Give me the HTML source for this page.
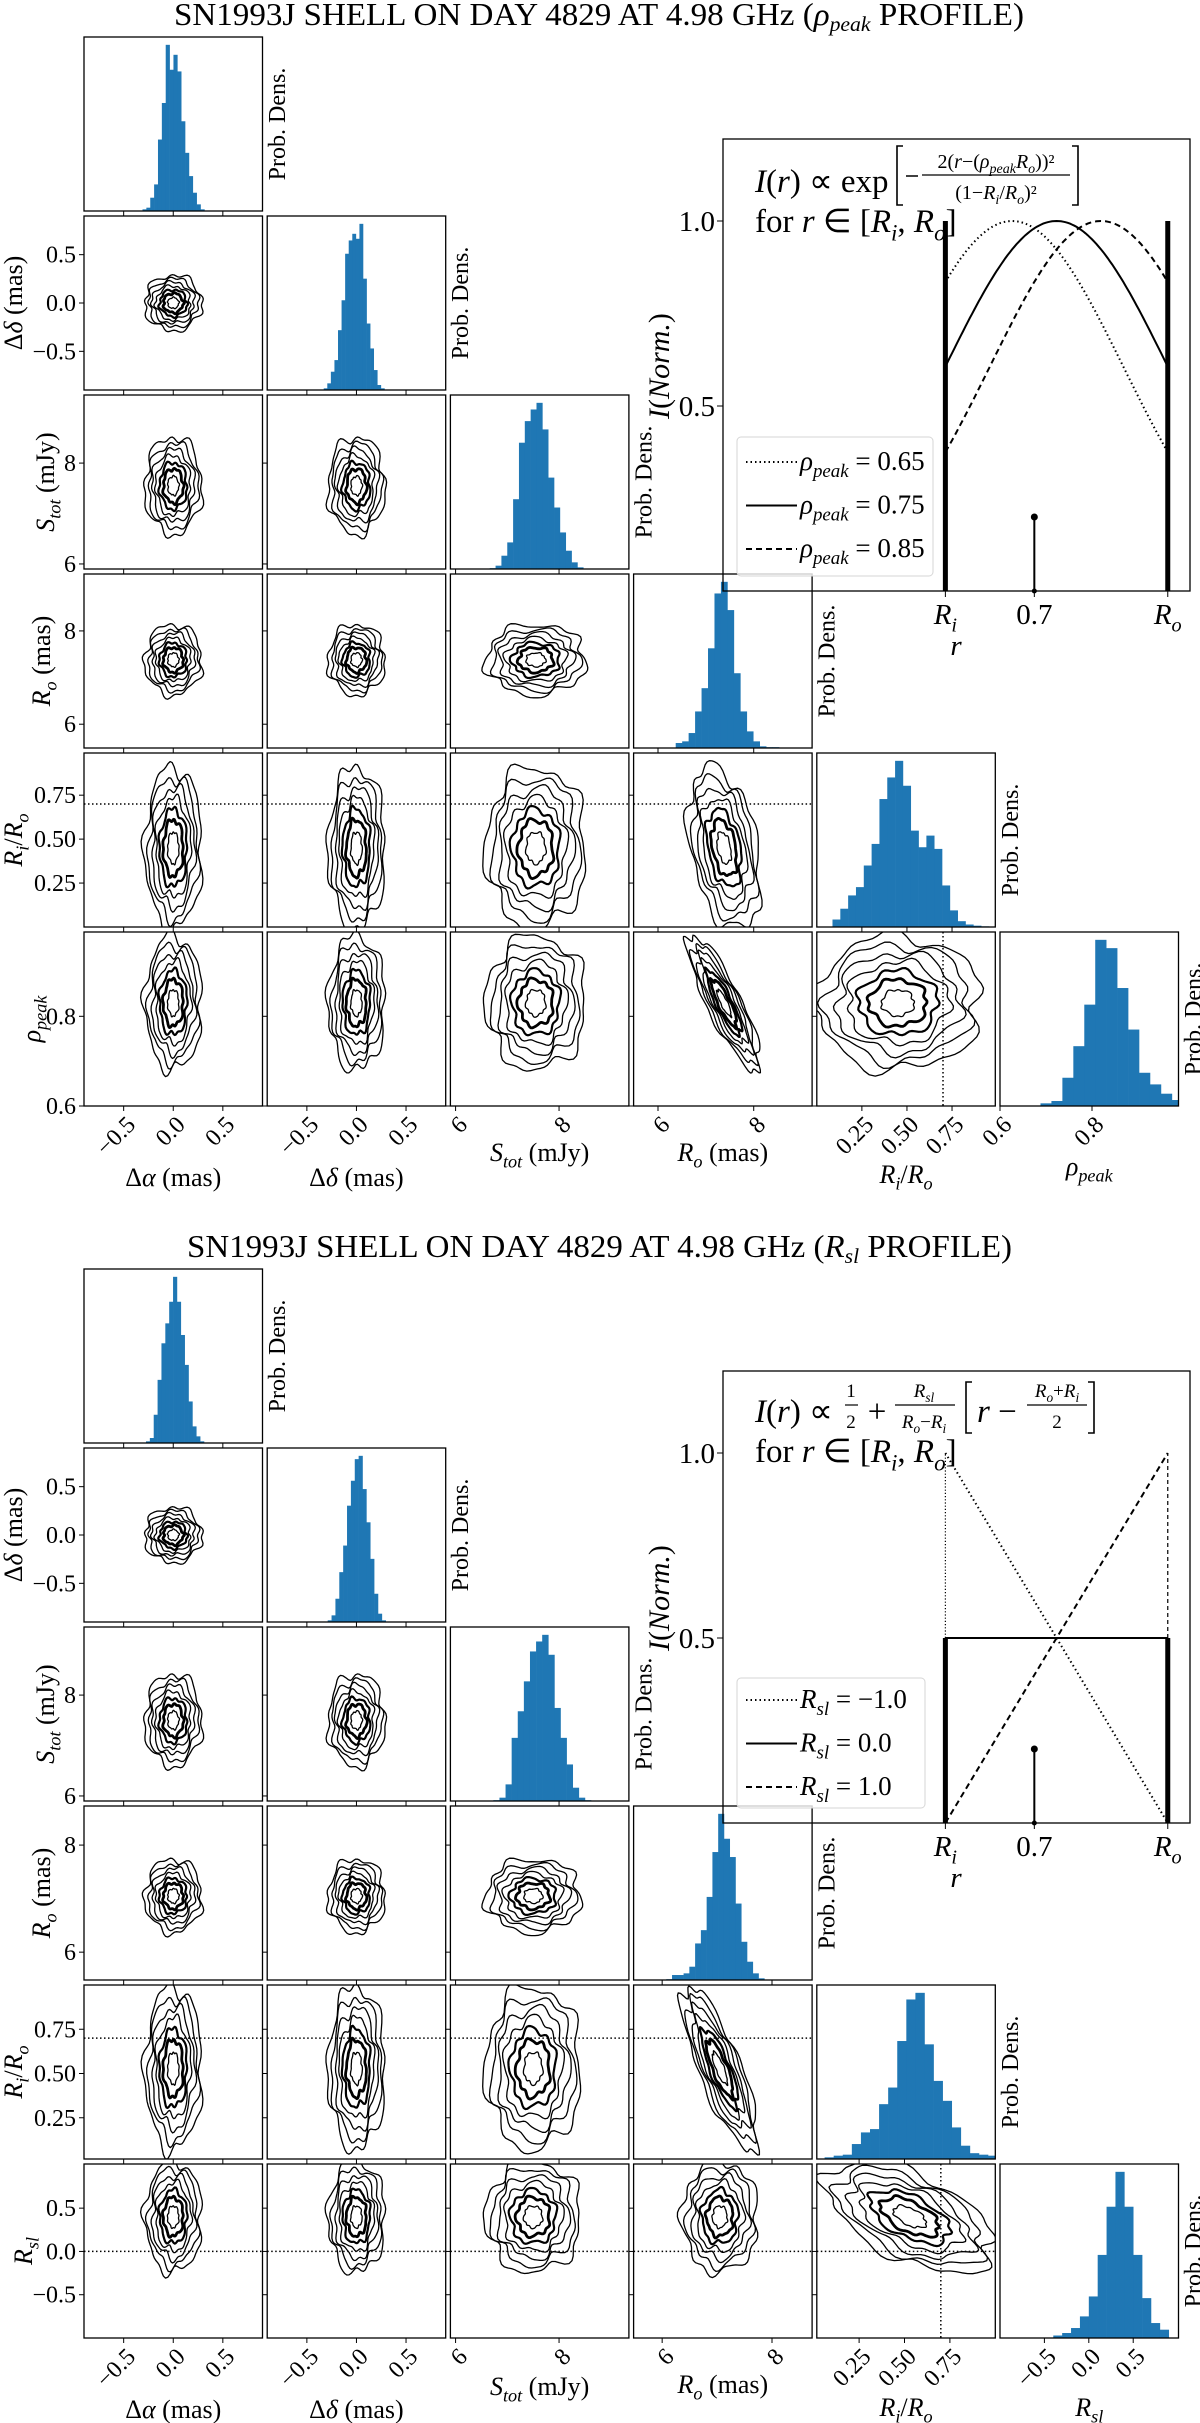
<!DOCTYPE html>
<html>
<head>
<meta charset="utf-8">
<style>
html,body{margin:0;padding:0;background:#fff;}
svg{display:block;font-family:"Liberation Serif",serif;}
</style>
</head>
<body>
<svg id="fig" width="1200" height="2423" viewBox="0 0 1200 2423" xmlns="http://www.w3.org/2000/svg">
<rect width="1200" height="2423" fill="#fff"/>
<defs id="defs"></defs>
<g id="topfig">
  <text x="174" y="25" font-size="32" textLength="850" lengthAdjust="spacingAndGlyphs">SN1993J SHELL ON DAY 4829 AT 4.98 GHz (<tspan font-style="italic">ρ</tspan><tspan dy="6" font-size="21" font-style="italic">peak</tspan><tspan dy="-6"> PROFILE)</tspan></text>
</g>
<g id="botfig" transform="translate(0,1232)">
  <text x="187" y="25" font-size="32" textLength="825" lengthAdjust="spacingAndGlyphs">SN1993J SHELL ON DAY 4829 AT 4.98 GHz (<tspan font-style="italic">R</tspan><tspan dy="6" font-size="21" font-style="italic">sl</tspan><tspan dy="-6"> PROFILE)</tspan></text>
</g>
</svg>
<script>
const NS='http://www.w3.org/2000/svg';
const PX0=84, PSX=183.2, PW=178.5, PY0=37, PSY=179, PH=174;

// ---------- TOP FIGURE DATA ----------
const topMin=[-0.9,-0.9,5.9,5.49,0.0,0.6];
const topMax=[0.9,0.9,9.35,9.22,0.99,0.988];
const topTicks=[[-0.5,0,0.5],[-0.5,0,0.5],[6,8],[6,8],[0.25,0.5,0.75],[0.6,0.8]];
const topTickLabels=[['−0.5','0.0','0.5'],['−0.5','0.0','0.5'],['6','8'],['6','8'],['0.25','0.50','0.75'],['0.6','0.8']];
const topHistStart=[-0.31,-0.33,6.66,6.37,0.087,0.688];
const topHistWidth=[0.039,0.036,0.113,0.135,0.0434,0.0238];
const topHistDalpha=[0.01,0.02,0.08,0.16,0.43,0.65,1.0,0.85,0.94,0.84,0.54,0.35,0.21,0.11,0.04,0.01];
const topHistDdelta=[0.01,0.04,0.11,0.18,0.36,0.54,0.82,0.9,0.94,0.91,1.0,0.67,0.4,0.25,0.12,0.03,0.01];
const topHistStot=[0.005,0.02,0.08,0.16,0.42,0.76,0.89,0.96,1.0,0.84,0.55,0.37,0.22,0.11,0.04,0.01];
const topHistRo=[0.03,0.04,0.09,0.22,0.36,0.6,0.93,1.0,0.83,0.45,0.22,0.1,0.04,0.01,0.005,0.005];
const topHistRiro=[0.045,0.11,0.19,0.24,0.37,0.5,0.77,0.9,1.0,0.85,0.58,0.48,0.55,0.47,0.25,0.1,0.035,0.015,0.008,0.004];
const topHistRho=[0.016,0.03,0.17,0.36,0.61,1.0,0.95,0.71,0.46,0.2,0.13,0.074,0.036];
const topMeans=[0.0,0.0,7.55,7.38,0.45,0.83];
const topSds=[0.125,0.125,0.42,0.33,0.2,0.065];
const topCorrRow=[5,4,5];
const topCorrCol=[3,3,4];
const topCorrVal=[-0.85,-0.35,0.0];
const topRefValue=0.7;

// ---------- BOTTOM FIGURE DATA ----------
const botMin=[-0.9,-0.9,5.9,5.48,0.017,-1.0];
const botMax=[0.9,0.9,9.35,8.73,1.0,1.01];
const botTicks=[[-0.5,0,0.5],[-0.5,0,0.5],[6,8],[6,8],[0.25,0.5,0.75],[-0.5,0,0.5]];
const botTickLabels=[['−0.5','0.0','0.5'],['−0.5','0.0','0.5'],['6','8'],['6','8'],['0.25','0.50','0.75'],['−0.5','0.0','0.5']];
const botHistStart=[-0.275,-0.29,6.73,5.97,0.06,-0.4];
const botHistWidth=[0.039,0.039,0.118,0.105,0.05,0.1];
const botHistDalpha=[0.01,0.03,0.17,0.38,0.6,0.72,0.85,1.0,0.85,0.65,0.47,0.25,0.1,0.04,0.01];
const botHistDdelta=[0.01,0.04,0.14,0.3,0.46,0.7,0.85,0.98,1.0,0.8,0.6,0.38,0.17,0.05,0.01];
const botHistStot=[0.005,0.02,0.1,0.38,0.54,0.72,0.9,0.96,1.0,0.88,0.56,0.38,0.22,0.08,0.02,0.005];
const botHistRo=[0.003,0.005,0.03,0.03,0.04,0.08,0.22,0.3,0.5,0.77,1.0,0.85,0.74,0.46,0.23,0.11,0.04,0.01];
const botHistRiro=[0.01,0.02,0.026,0.09,0.16,0.18,0.33,0.43,0.71,0.96,1.0,0.69,0.47,0.35,0.19,0.08,0.035,0.026,0.02];
const botHistRsl=[0.015,0.03,0.06,0.13,0.25,0.5,0.79,1.0,0.79,0.5,0.24,0.09,0.05];
const botMeans=[0.0,0.0,7.5,7.05,0.53,0.4];
const botSds=[0.125,0.125,0.4,0.3,0.2,0.28];
const botCorrRow=[4,5,5];
const botCorrCol=[3,4,3];
const botCorrVal=[-0.8,-0.55,0.0];
const botRefRi=0.7;
const botRefRsl=0.0;

// ---------- INSET DATA ----------
const insetRhoPeak=[0.65,0.75,0.85];
const insetRsl=[-1.0,0.0,1.0];
const insetRi=0.5, insetRo=1.0, insetStemR=0.7, insetStemH=0.2;

const defs=document.getElementById('defs');
function mk(tag,attrs,parent){const e=document.createElementNS(NS,tag);for(const k in attrs)e.setAttribute(k,attrs[k]);if(parent)parent.appendChild(e);return e;}
function fmt(s,fs){
  return s.replace(/<i>(.*?)<\/i>/g,'<tspan font-style="italic">$1</tspan>')
   .replace(/<sub>(.*?)<\/sub>/g,(m,a)=>'<tspan dy="'+(fs*0.25)+'" font-size="'+(fs*0.7)+'" font-style="italic">'+a+'</tspan><tspan dy="'+(-fs*0.25)+'">\u200B</tspan>');
}
function txt(parent,x,y,fs,html,anchor,transform){
  const t=mk('text',{x:x,y:y,'font-size':fs,'text-anchor':anchor||'start'},parent);
  if(transform)t.setAttribute('transform',transform);
  t.innerHTML=fmt(html,fs);
  return t;
}

function drawCorner(root,id,mins,maxs,ticks,tickLabels,hists,hStart,hWidth,means,sds,corrRow,corrCol,corrVal,axisLabels,yLabelX,xLabelY,refH,refV){
  const corr=(i,j)=>{for(let k=0;k<corrRow.length;k++){if(corrRow[k]===i&&corrCol[k]===j)return corrVal[k];}return 0;};
  for(let i=0;i<6;i++){
    for(let j=0;j<=i;j++){
      const x0=PX0+j*PSX, y0=PY0+i*PSY;
      const sx=v=>x0+(v-mins[j])/(maxs[j]-mins[j])*PW;
      const sy=v=>y0+PH-(v-mins[i])/(maxs[i]-mins[i])*PH;
      const g=mk('g',{},root);
      
      
      const cp=mk('clipPath',{id:id+'c'+i+'_'+j},defs);
      mk('rect',{x:x0,y:y0,width:PW,height:PH},cp);
      const inner=mk('g',{'clip-path':'url(#'+id+'c'+i+'_'+j+')'},g);
      if(i===j){
        const h=hists[i];const mx=Math.max(...h);
        for(let k=0;k<h.length;k++){
          const a=sx(hStart[i]+k*hWidth[i]), b=sx(hStart[i]+(k+1)*hWidth[i]);
          const hh=h[k]/mx*0.955*PH;
          const r=mk('rect',{x:a,y:y0+PH-hh,width:b-a+0.3,height:hh,fill:'#1f77b4'},inner);
          
          
        }
      } else {
        const rho=corr(i,j);
        const levels=[0.45,0.8,1.1,1.4,1.7,2.0,2.3];
        const widths=[1.3,2.8,2.2,1.3,1.3,1.3,1.3];
        for(let k=0;k<levels.length;k++){
          let d='';
          for(let n=0;n<=90;n++){
            const t=n/90*Math.PI*2;
            const w=1+0.07*Math.sin(5*t+k*1.3+i*0.7)+0.05*Math.sin(9*t+k*0.9+j*1.7)+0.03*Math.sin(13*t+k);
            const u=levels[k]*w*Math.cos(t), v=levels[k]*w*Math.sin(t);
            const dx=u*sds[j], dy=(rho*u+Math.sqrt(1-rho*rho)*v)*sds[i];
            d+=(n?'L':'M')+sx(means[j]+dx).toFixed(1)+','+sy(means[i]+dy).toFixed(1);
          }
          const p=mk('path',{d:d+'Z',fill:'none',stroke:'#000','stroke-width':widths[k],'stroke-linejoin':'round'},inner);
          
          
        }
      }
      for(const r of refH){ if(r.row===i && j<i && j<=r.maxCol){
        const l=mk('line',{x1:x0,x2:x0+PW,y1:sy(r.v),y2:sy(r.v),stroke:'#000','stroke-width':1.5,'stroke-dasharray':'1.5,2.5'},inner);
        
        
      }}
      for(const r of refV){ if(r.col===j && r.row===i){
        const l=mk('line',{x1:sx(r.v),x2:sx(r.v),y1:y0,y2:y0+PH,stroke:'#000','stroke-width':1.5,'stroke-dasharray':'1.5,2.5'},inner);
        
        
      }}
      const box=mk('rect',{x:x0,y:y0,width:PW,height:PH,fill:'none',stroke:'#000','stroke-width':1.3},g);
      
      
      ticks[j].forEach((tv,ti)=>{
        mk('line',{x1:sx(tv),x2:sx(tv),y1:y0+PH,y2:y0+PH+5,stroke:'#000','stroke-width':1},g);
        if(i===5){
          const rg=mk('g',{transform:'translate('+(sx(tv)+13).toFixed(1)+','+(y0+PH+20)+') rotate(-45)'},g);
          
          
          const t=txt(rg,0,0,24,tickLabels[j][ti],'end');
          
          
        }
      });
      if(j<i){
        ticks[i].forEach((tv,ti)=>{
          mk('line',{x1:x0-5,x2:x0,y1:sy(tv),y2:sy(tv),stroke:'#000','stroke-width':1},g);
          if(j===0){
            const t=txt(g,76,sy(tv)+8,24,tickLabels[i][ti],'end');
            
            
          }
        });
      }
      if(i===j){
        const cy=y0+PH/2, cx=x0+PW+22.5;
        const t=txt(g,cx,cy,24,'Prob.  Dens.','middle','rotate(-90 '+cx+' '+cy+')');
        
        
      }
    }
    if(i>0){
      const cy=PY0+i*PSY+PH/2;
      const t=txt(root,yLabelX[i],cy,26,axisLabels[i],'middle','rotate(-90 '+yLabelX[i]+' '+cy+')');
      
      
    }
    const t2=txt(root,PX0+i*PSX+PW/2,xLabelY[i],26,axisLabels[i],'middle');
    
    
  }
}

const labTop=['Δ<i>α</i> (mas)','Δ<i>δ</i> (mas)','<i>S</i><sub>tot</sub> (mJy)','<i>R</i><sub>o</sub> (mas)','<i>R</i><sub>i</sub>/<i>R</i><sub>o</sub>','<i>ρ</i><sub>peak</sub>'];
const labBot=['Δ<i>α</i> (mas)','Δ<i>δ</i> (mas)','<i>S</i><sub>tot</sub> (mJy)','<i>R</i><sub>o</sub> (mas)','<i>R</i><sub>i</sub>/<i>R</i><sub>o</sub>','<i>R</i><sub>sl</sub>'];

const topG=document.getElementById('topfig');
const botG=document.getElementById('botfig');
drawCorner(topG,'t',topMin,topMax,topTicks,topTickLabels,
  [topHistDalpha,topHistDdelta,topHistStot,topHistRo,topHistRiro,topHistRho],
  topHistStart,topHistWidth,topMeans,topSds,topCorrRow,topCorrCol,topCorrVal,
  labTop,[0,22,54,50,22,40],[1186,1186,1161,1161,1183,1175],
  [{row:4,v:topRefValue,maxCol:3}],[{row:5,col:4,v:topRefValue}]);
drawCorner(botG,'b',botMin,botMax,botTicks,botTickLabels,
  [botHistDalpha,botHistDdelta,botHistStot,botHistRo,botHistRiro,botHistRsl],
  botHistStart,botHistWidth,botMeans,botSds,botCorrRow,botCorrCol,botCorrVal,
  labBot,[0,22,54,50,22,32],[1186,1186,1163,1161,1184,1184],
  [{row:4,v:botRefRi,maxCol:3},{row:5,v:botRefRsl,maxCol:4}],[{row:5,col:4,v:botRefRi}]);

// ---------- INSETS ----------
const IX0=723, IX1=1190, IY0=139, IY1=591;
const ix=v=>IX0+v/1.05*(IX1-IX0);
const iy=v=>IY1-v/1.2216*(IY1-IY0);
const dashes=['1.5,3','','6,4'];
function drawInsetFrame(g,legendLabels,legendBox){
  const fr=mk('rect',{x:IX0,y:IY0,width:IX1-IX0,height:IY1-IY0,fill:'none',stroke:'#000','stroke-width':1.3},g);
  
  
  [[1.0,'1.0'],[0.5,'0.5']].forEach(([v,l])=>{
    mk('line',{x1:IX0-6,x2:IX0,y1:iy(v),y2:iy(v),stroke:'#000','stroke-width':1},g);
    const t=txt(g,715,iy(v)+10,29,l,'end');
    
    
  });
  [[insetRi,'<i>R</i><sub>i</sub>'],[insetStemR,'0.7'],[insetRo,'<i>R</i><sub>o</sub>']].forEach(([v,l])=>{
    mk('line',{x1:ix(v),x2:ix(v),y1:IY1,y2:IY1+6,stroke:'#000','stroke-width':1},g);
    const t=txt(g,ix(v),624,29,l,'middle');
    
    
  });
  const xl=txt(g,956,655,29,'<i>r</i>','middle');
  
  
  const yl=txt(g,669,366,30,'<i>I</i>(<i>Norm.</i>)','middle','rotate(-90 669 366)');
  
  
  const st=mk('line',{x1:ix(insetStemR),x2:ix(insetStemR),y1:iy(0),y2:iy(insetStemH),stroke:'#000','stroke-width':2},g);
  
  
  mk('circle',{cx:ix(insetStemR),cy:iy(insetStemH),r:3.5,fill:'#000'},g);
  mk('circle',{cx:ix(insetStemR),cy:iy(0),r:2.5,fill:'#000'},g);
  const lg=mk('g',{},g);
  
  
  mk('rect',{x:legendBox[0],y:legendBox[1],width:legendBox[2],height:legendBox[3],rx:4,fill:'#fff','fill-opacity':0.8,stroke:'#d6d6d6','stroke-width':1},lg);
  legendLabels.forEach((l,k)=>{
    const cy=legendBox[4]+k*43.5;
    const ll=mk('line',{x1:746,x2:797,y1:cy,y2:cy,stroke:'#000','stroke-width':2},lg);
    if(dashes[k])ll.setAttribute('stroke-dasharray',dashes[k]);
    
    
    const t=txt(lg,800,cy+8,27,l,'start');
    
    
  });
}

const ti=mk('g',{},topG);


insetRhoPeak.forEach((rp,k)=>{
  let d='';
  for(let n=0;n<=100;n++){const r=insetRi+(insetRo-insetRi)*n/100;const I=Math.exp(-2*Math.pow(r-rp*insetRo,2)/Math.pow(1-insetRi/insetRo,2));d+=(n?'L':'M')+ix(r).toFixed(1)+','+iy(I).toFixed(1);}
  const p=mk('path',{d:d,fill:'none',stroke:'#000','stroke-width':2},ti);
  if(dashes[k])p.setAttribute('stroke-dasharray',dashes[k]);
  
  
});
[insetRi,insetRo].forEach(v=>{
  const l=mk('line',{x1:ix(v),x2:ix(v),y1:iy(0),y2:iy(1.0),stroke:'#000','stroke-width':5},ti);
  
  
});
drawInsetFrame(ti,['<i>ρ</i><sub>peak</sub> = 0.65','<i>ρ</i><sub>peak</sub> = 0.75','<i>ρ</i><sub>peak</sub> = 0.85'],[737,437,196,139,462]);
(function(){
  const f=mk('g',{},ti);
  
  
  txt(f,755,192,33,'<i>I</i>(<i>r</i>) ∝ exp','start');
  mk('path',{d:'M903,146H897V205H903M1072,146H1078V205H1072',fill:'none',stroke:'#000','stroke-width':1.6},f);
  mk('line',{x1:906,x2:918,y1:176,y2:176,stroke:'#000','stroke-width':1.5},f);
  mk('line',{x1:922,x2:1070,y1:175,y2:175,stroke:'#000','stroke-width':1.2},f);
  txt(f,996,168,20,'2(<i>r</i>−(<i>ρ</i><sub>peak</sub><i>R</i><sub>o</sub>))²','middle');
  txt(f,996,199,20,'(1−<i>R</i><sub>i</sub>/<i>R</i><sub>o</sub>)²','middle');
  txt(f,755,232,33,'for <i>r</i> ∈ [<i>R</i><sub>i</sub>, <i>R</i><sub>o</sub>]','start');
})();

const bi=mk('g',{},botG);


insetRsl.forEach((rs,k)=>{
  const I0=0.5+rs/(insetRo-insetRi)*(insetRi-(insetRo+insetRi)/2);
  const I1=0.5+rs/(insetRo-insetRi)*(insetRo-(insetRo+insetRi)/2);
  const p=mk('line',{x1:ix(insetRi),y1:iy(I0),x2:ix(insetRo),y2:iy(I1),stroke:'#000','stroke-width':2},bi);
  if(dashes[k])p.setAttribute('stroke-dasharray',dashes[k]);
  
  
});
[insetRi,insetRo].forEach((v,k)=>{
  const l=mk('line',{x1:ix(v),x2:ix(v),y1:iy(0),y2:iy(0.5),stroke:'#000','stroke-width':5},bi);
  
  
  const l2=mk('line',{x1:ix(v),x2:ix(v),y1:iy(0.5),y2:iy(1.0),stroke:'#000','stroke-width':1.2,'stroke-dasharray':k?'4,3':'1.2,2'},bi);
  
  
});
drawInsetFrame(bi,['<i>R</i><sub>sl</sub> = −1.0','<i>R</i><sub>sl</sub> = 0.0','<i>R</i><sub>sl</sub> = 1.0'],[737,446,188,130,468]);
(function(){
  const f=mk('g',{},bi);
  
  
  txt(f,755,190,33,'<i>I</i>(<i>r</i>) ∝','start');
  txt(f,851,165,19,'1','middle');
  mk('line',{x1:845,x2:858,y1:173,y2:173,stroke:'#000','stroke-width':1.2},f);
  txt(f,851,196,19,'2','middle');
  txt(f,877,190,33,'+','middle');
  txt(f,924,165,19,'<i>R</i><sub>sl</sub>','middle');
  mk('line',{x1:895,x2:955,y1:173,y2:173,stroke:'#000','stroke-width':1.2},f);
  txt(f,924,196,19,'<i>R</i><sub>o</sub>−<i>R</i><sub>i</sub>','middle');
  mk('path',{d:'M972,150H966V201H972M1088,150H1094V201H1088',fill:'none',stroke:'#000','stroke-width':1.6},f);
  txt(f,977,190,33,'<i>r</i> −','start');
  txt(f,1057,165,19,'<i>R</i><sub>o</sub>+<i>R</i><sub>i</sub>','middle');
  mk('line',{x1:1027,x2:1087,y1:173,y2:173,stroke:'#000','stroke-width':1.2},f);
  txt(f,1057,196,19,'2','middle');
  txt(f,755,230,33,'for <i>r</i> ∈ [<i>R</i><sub>i</sub>, <i>R</i><sub>o</sub>]','start');
})();
</script>
</body>
</html>
